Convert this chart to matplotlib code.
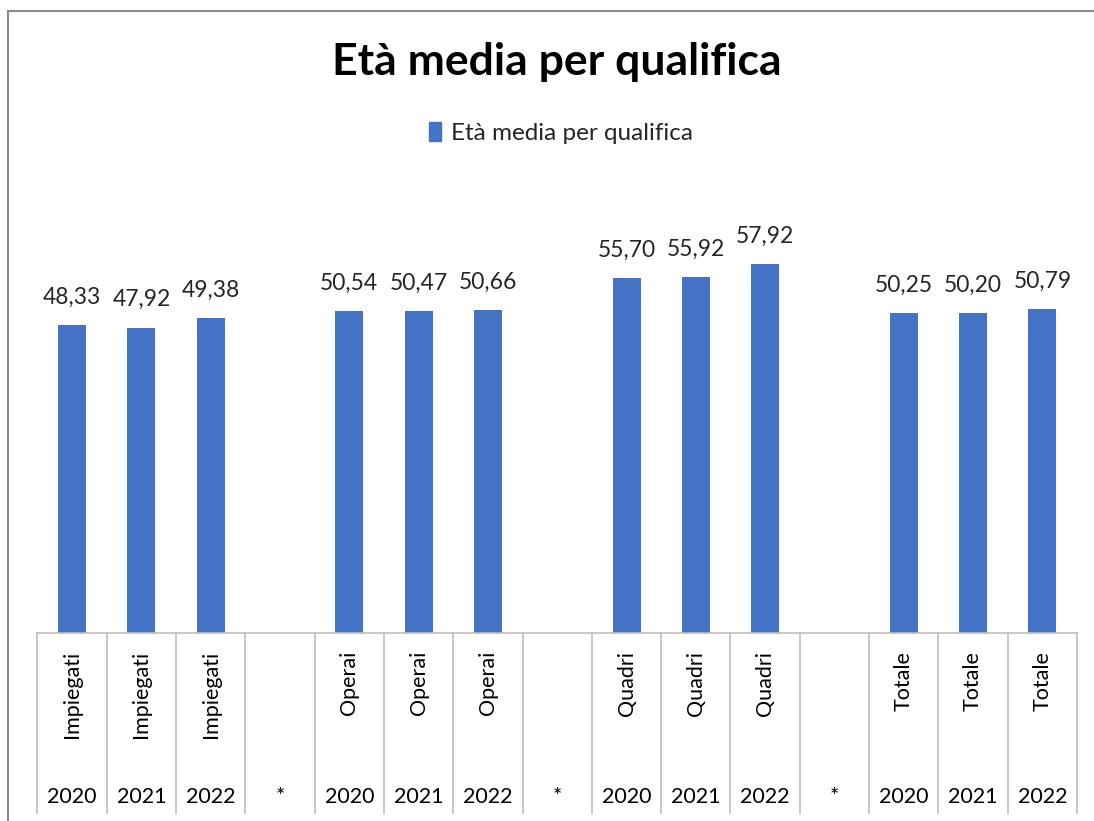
import matplotlib
matplotlib.use('Agg')
import matplotlib.pyplot as plt
from matplotlib.patches import Patch
from matplotlib.lines import Line2D

# -------------------------------------------------------------------------------------------------------------------- #
# DATA

names = ['Impiegati', 'Impiegati', 'Impiegati', '',
         'Operai', 'Operai', 'Operai', '',
         'Quadri', 'Quadri', 'Quadri', '',
         'Totale', 'Totale', 'Totale']
years = ['2020', '2021', '2022', '*',
         '2020', '2021', '2022', '*',
         '2020', '2021', '2022', '*',
         '2020', '2021', '2022']
eta_media = [48.33, 47.92, 49.38, None,
             50.54, 50.47, 50.66, None,
             55.70, 55.92, 57.92, None,
             50.25, 50.20, 50.79]

series_name = 'Età media per qualifica'

# -------------------------------------------------------------------------------------------------------------------- #
# PLOT

plt.rcParams['font.family'] = ['Lato', 'DejaVu Sans']
blue = '#4472C4'
grey = '#BFBFBF'
W, H = 1094, 821

fig = plt.figure(figsize=(W / 100, H / 100), dpi=100)
ax = fig.add_axes([37.4 / W, 1 - 633 / H, (1077 - 37.4) / W, (633 - 187) / H])

pos = list(range(len(names)))
for x, v in zip(pos, eta_media):
    if v is None:
        continue
    ax.bar(x, v, width=0.404, color=blue)
    ax.annotate(f'{v:.2f}'.replace('.', ','), (x, v), xytext=(0, 12.5), textcoords='offset points',
                ha='center', va='bottom', fontsize=16.5, color='#262626')

ax.set_xlim(-0.5, len(names) - 0.5)
ax.set_ylim(0, 70)
ax.set_xticks([])
ax.set_yticks([])
for s in ['top', 'right', 'left']:
    ax.spines[s].set_visible(False)
ax.spines['bottom'].set_color(grey)
ax.spines['bottom'].set_linewidth(1.2)

# category table under the axis
trans = ax.get_xaxis_transform()
ax_h = 633 - 187
y_end = -(813 - 633) / ax_h
for i in range(len(names) + 1):
    ax.plot([i - 0.5, i - 0.5], [0, y_end], color=grey, lw=1.2, transform=trans, clip_on=False)

for x, n, yr in zip(pos, names, years):
    ax.text(x, -(651 - 633) / ax_h, n, rotation=90, ha='center', va='top', fontsize=15.5,
            color='black', transform=trans)
    ax.text(x, -(797 - 633) / ax_h, yr, ha='center', va='center', fontsize=15.5,
            color='black', transform=trans)

fig.text(557 / W, 1 - 62 / H, series_name, ha='center', va='center', fontsize=32,
         fontweight='bold', color='black')

fig.legend(handles=[Patch(color=blue, label=series_name)], loc='center',
           bbox_to_anchor=(561 / W, 1 - 133 / H), frameon=False, fontsize=17.5,
           handlelength=0.5, handleheight=0.8, handletextpad=0.4, labelcolor='#262626')

# chart border
fig.add_artist(Line2D([8 / W, 8 / W], [0, 1 - 11 / H], color='#8C8C8C', lw=1.5))
fig.add_artist(Line2D([8 / W, 1], [1 - 11 / H, 1 - 11 / H], color='#8C8C8C', lw=1.5))

plt.savefig('out.png', dpi=100)
